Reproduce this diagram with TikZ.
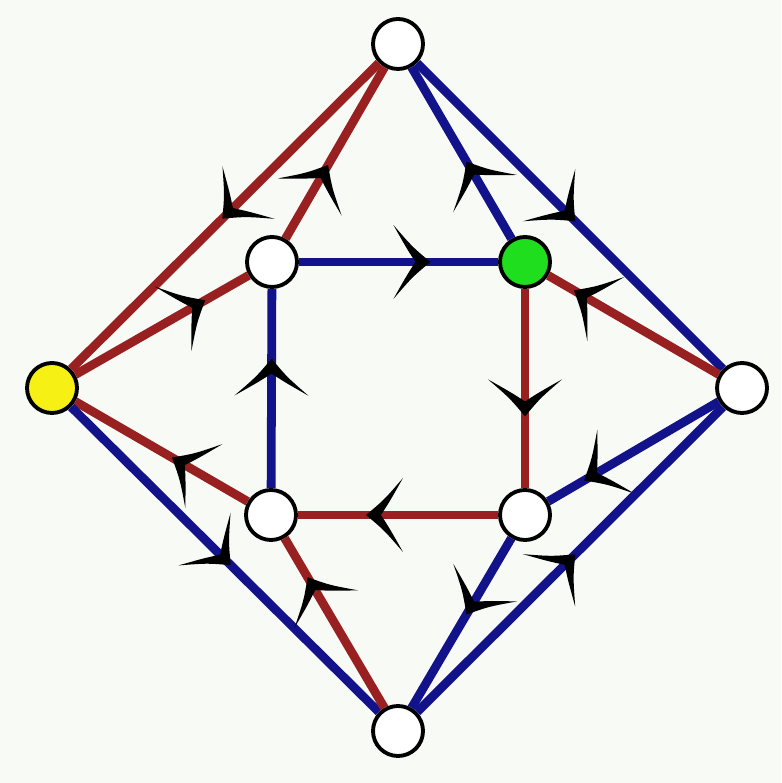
\documentclass[tikz,border=0pt]{standalone}
\usetikzlibrary{decorations.markings}
\definecolor{edgeblue}{RGB}{18,18,138}
\definecolor{edgered}{RGB}{152,32,32}
\definecolor{vgreen}{RGB}{30,222,30}
\definecolor{vyellow}{RGB}{246,240,20}
\definecolor{paper}{RGB}{248,250,246}
\tikzset{
  vertex/.style={circle,draw=black,line width=1.1pt,fill=white,minimum size=0.5cm,inner sep=0pt},
  bedge/.style={edgeblue,line width=2.5pt},
  redge/.style={edgered,line width=2.5pt},
  flow/.style={postaction={decorate,decoration={markings,mark=at position #1 with {\fill[black] (0.04,0) .. controls (-0.14,0.15) .. (-0.33,0.37) .. controls (-0.2,0.14) .. (-0.11,0) .. controls (-0.2,-0.14) .. (-0.33,-0.37) .. controls (-0.14,-0.15) .. (0.04,0) -- cycle;}}}}
}
\begin{document}
\begin{tikzpicture}
        \fill[paper] (0,0) rectangle (7.81,7.83);
        % outer vertices
        \node[vertex] (T) at (3.98,7.39) {}; \node[vertex] (B) at (3.98,0.52) {};
        \node[vertex,fill=vyellow] (L) at (0.52,3.95) {}; \node[vertex] (R) at (7.42,3.95) {};
        % inner square
        \node[vertex] (TL) at (2.72,5.21) {}; \node[vertex,fill=vgreen] (TR) at (5.25,5.21) {};
        \node[vertex] (BL) at (2.71,2.68) {}; \node[vertex] (BR) at (5.25,2.68) {};
        % edges
        \draw[redge,flow=0.5] (T) -- (L); \draw[redge,flow=0.41] (TL) -- (T);
        \draw[redge,flow=0.73] (L) -- (TL); \draw[bedge,flow=0.64] (TL) -- (TR);
        \draw[bedge,flow=0.43] (TR) -- (T); \draw[bedge,flow=0.51] (T) -- (R);
        \draw[redge,flow=0.83] (R) -- (TR); \draw[bedge,flow=0.63] (BL) -- (TL);
        \draw[redge,flow=0.62] (TR) -- (BR); \draw[redge,flow=0.64] (BR) -- (BL);
        \draw[redge,flow=0.42] (BL) -- (L); \draw[bedge,flow=0.51] (L) -- (B);
        \draw[redge,flow=0.75] (B) -- (BL); \draw[bedge,flow=0.77] (R) -- (BR);
        \draw[bedge,flow=0.51] (B) -- (R); \draw[bedge,flow=0.43] (BR) -- (B);
\end{tikzpicture}
\end{document}
